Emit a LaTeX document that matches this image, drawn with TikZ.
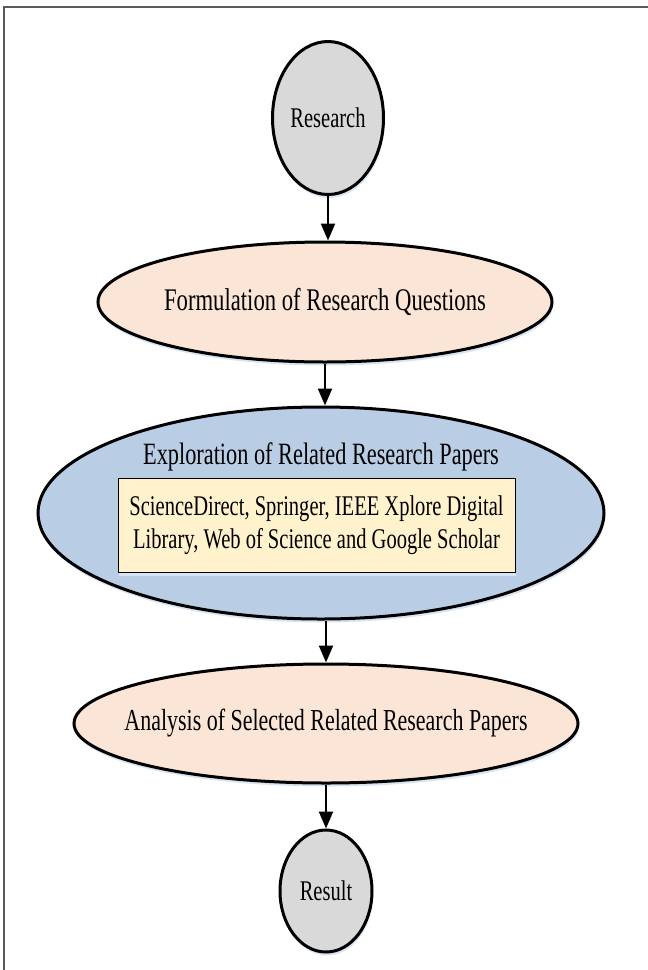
\documentclass[tikz,border=0pt]{standalone}
\usepackage{fontspec}
\setmainfont{Liberation Serif}[FakeStretch=0.72]
\usetikzlibrary{shapes.geometric,arrows.meta,shadows}

\definecolor{termfill}{HTML}{D9D9D9}
\definecolor{stepfill}{HTML}{FBE5D6}
\definecolor{explfill}{HTML}{B9CDE5}
\definecolor{srcfill}{HTML}{FFF2CC}
\definecolor{glow}{HTML}{D8E4F2}
\definecolor{framegray}{HTML}{5A5A5A}

\begin{document}
\begin{tikzpicture}[x=1pt,y=-1pt,
  glowshadow/.style={drop shadow={shadow xshift=1pt,shadow yshift=-3.5pt,fill=glow,opacity=1}},
  oval/.style={ellipse,draw=black,line width=3pt,inner sep=0pt,glowshadow},
  terminal/.style={oval,fill=termfill},
  stepoval/.style={oval,fill=stepfill},
  exploval/.style={oval,fill=explfill},
  caption/.style={inner sep=0pt,font=\fontsize{#1}{33}\selectfont},
  srcbox/.style={rectangle,draw=black,line width=0.9pt,fill=srcfill,inner sep=0pt,
    align=center,glowshadow,font=\fontsize{28.5}{33}\selectfont},
  flow/.style={line width=2.3pt,-{Triangle[width=14pt,length=17pt]}}
]
  \useasboundingbox (0,0) rectangle (648,970);

  % page frame: top and left rules only
  \draw[framegray,line width=1.6pt] (4,970) -- (4,7) -- (648,7);

  % process stages (outlines first, captions on top)
  \node[terminal,minimum width=111pt,minimum height=153pt] (research) at (328,118) {};
  \node[caption=28.5] (researchtxt) at (research) {Research};

  \node[stepoval,minimum width=454pt,minimum height=120pt] (formulation) at (325,302) {};
  \node[caption=31.5] (formulationtxt) at (formulation) {Formulation of Research Questions};

  \node[exploval,minimum width=566pt,minimum height=212pt] (exploration) at (321,513) {};
  \node[caption=31] (explabel) at (321,457) {Exploration of Related Research Papers};
  \node[srcbox,minimum width=397pt,minimum height=94pt] (sources) at (316.5,525)
    {ScienceDirect, Springer, IEEE Xplore Digital\\Library, Web of Science and Google Scholar};

  \node[stepoval,minimum width=504pt,minimum height=119pt] (analysis) at (326,723.5) {};
  \node[caption=30.5] (analysistxt) at (analysis) {Analysis of Selected Related Research Papers};

  \node[terminal,minimum width=92pt,minimum height=122pt] (result) at (326,891) {};
  \node[caption=28.5] (resulttxt) at (result) {Result};

  % connectors
  \draw[flow] (research.south) -- (research.south |- formulation.north);
  \draw[flow] (formulation.south) -- (formulation.south |- exploration.north);
  \draw[flow] (analysis.north |- exploration.south) -- (analysis.north);
  \draw[flow] (analysis.south) -- (analysis.south |- result.north);
\end{tikzpicture}
\end{document}
